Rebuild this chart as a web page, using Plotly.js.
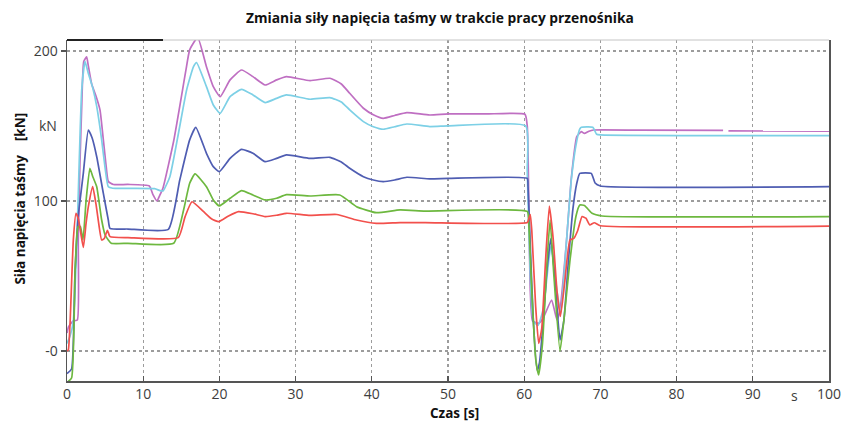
<!DOCTYPE html>
<html>
<head>
<meta charset="utf-8">
<script src="https://cdn.plot.ly/plotly-3.0.1.min.js"></script>
<style>html,body{margin:0;padding:0;background:#fff;}#chart{width:842px;height:426px;}</style>
</head>
<body>
<div id="chart"></div>
<script>
// ---- data (time in s, force in kN) ----
const chartTitle = "Zmiania siły napięcia taśmy w trakcie pracy przenośnika";
const xTitle = "Czas [s]";
const yTitle = "Siła napięcia taśmy\u00a0\u00a0\u00a0\u00a0[kN]";
const xTickVals = [0, 10, 20, 30, 40, 50, 60, 70, 80, 90, 100];
const xTickText = ["0", "10", "20", "30", "40", "50", "60", "70", "80", "90", "100"];
const yTickVals = [0, 100, 200];
const yTickText = ["-0", "100", "200"];
const xUnitLabel = "s";
const xUnitPos = 95.5;
const yUnitLabel = "kN";
const yUnitPos = 150;

const tMagenta = [0, 0.2, 0.8, 1.36, 1.48, 1.7, 1.93, 2.2, 2.58, 2.8, 3.24, 3.8, 4.33, 4.77, 5.1, 5.42, 6.1, 8, 10.8, 11.3, 11.8, 12.2, 12.6, 14, 15.6, 16.1, 17.15, 18.3, 19.2, 20.1, 21.4, 22.9, 24.4, 26, 27.5, 28.8, 31.9, 34.5, 36, 37.1, 38.9, 40.2, 41.5, 43, 44.6, 47.6, 50, 55, 60.1, 60.4, 60.6, 60.8, 61.1, 61.9, 62.5, 63.6, 64.3, 64.7, 65.5, 66.2, 66.9, 67.5, 67.9, 68.5, 69.1, 75, 86.1, 86.45, 86.8, 100];
const yMagenta = [12, 16, 20, 20.7, 74, 125, 163, 193, 196, 190, 178, 170, 160.7, 140.7, 125, 113, 111, 111, 110, 104, 100, 104, 108.7, 140, 187, 200.7, 209, 189.5, 176.2, 169.5, 180.7, 187.3, 182.9, 177.3, 180.7, 182.9, 180.2, 181.8, 178, 171.8, 161.8, 157.5, 155.1, 157, 158.9, 157.3, 158, 158, 157.8, 150, 100, 40, 20, 18.4, 22, 34, 20.7, 27.3, 70, 116, 142.9, 146.2, 145, 146.5, 147.3, 147.2, 147, null, 146.7, 146.5];

const tCyan = [0, 0.4, 0.83, 1.2, 1.48, 1.93, 2.36, 2.8, 3.4, 3.9, 4.55, 5.0, 5.42, 6, 8, 11.5, 12.2, 12.6, 13.5, 15.7, 16.6, 17.0, 18.3, 19.2, 20.1, 21.4, 22.9, 24.4, 26, 27.5, 28.8, 31.9, 34.5, 36, 37.1, 38.9, 40.2, 41.5, 43, 44.6, 47.6, 50, 60.2, 60.4, 60.8, 61.2, 61.8, 62.5, 63.5, 64.3, 64.8, 65.5, 66.2, 66.9, 67.3, 67.5, 69, 69.5, 70, 100];
const yCyan = [5, 10, 20, 60, 105, 174, 193, 185, 175, 163, 140.7, 122, 109.5, 108.5, 108.4, 108.2, 106.9, 106.7, 116.2, 174, 189.5, 192.2, 176.2, 164, 158.4, 169.5, 174.4, 170.7, 165.6, 168.4, 170.7, 167.8, 168.9, 166, 160.7, 152.9, 149.5, 147.8, 149.5, 151.3, 149.6, 150, 150, 120, 50, 20, 17, 28, 70, 40, 25, 70, 115, 140, 148, 149.1, 149.1, 144.5, 144, 143.5];

const tBlue = [0, 0.6, 1.05, 1.48, 2.14, 2.8, 3.3, 3.9, 4.77, 5.42, 5.64, 8, 13.3, 14.8, 16.1, 16.9, 18.3, 19.2, 20.0, 21.4, 22.9, 24.4, 26, 27.5, 28.8, 31.9, 34.5, 36, 37.1, 38.9, 40.2, 41.5, 43, 44.6, 47.6, 50, 60.4, 60.5, 60.8, 61.2, 61.7, 62.0, 62.5, 63.0, 63.5, 64.0, 64.7, 65.2, 65.8, 66.4, 66.9, 67.3, 68.8, 69.3, 70, 100];
const yBlue = [-15, -12, 52, 90, 118.4, 147.3, 142, 129.5, 105, 87.3, 81.8, 81.3, 81.1, 114, 140.7, 149.1, 131.8, 122.9, 119.6, 128.4, 134.4, 131.8, 126.2, 128.4, 130.7, 128.4, 129.1, 126, 121.8, 116.2, 114, 112.9, 114, 115.8, 114.7, 115, 115, 110, 70, 20, -13, -8, 20, 55, 75, 50, 7.3, 20, 60, 95, 111.8, 118.4, 118.4, 112, 110, 109.5];

const tGreen = [0, 0.6, 1.05, 1.3, 1.48, 1.75, 2.1, 2.5, 3.0, 3.4, 3.9, 4.55, 5.0, 5.42, 5.8, 8, 14, 15.3, 16.1, 16.8, 18.3, 19.2, 20.0, 21.4, 22.9, 24.4, 26, 27.5, 28.8, 31.9, 35.8, 38.0, 40.6, 43.7, 47, 60.4, 60.6, 61.0, 61.5, 61.9, 62.4, 63.0, 63.4, 63.9, 64.7, 65.3, 66.0, 66.8, 67.3, 67.9, 68.9, 70.2, 100];
const yGreen = [-21, -18, 52, 78, 83, 83, 74, 100, 121.8, 116, 109.5, 87.3, 77.3, 74, 71.8, 71.8, 71.8, 94, 111.8, 118, 109.5, 100.7, 96.7, 101.8, 106.9, 104, 100.7, 101.8, 104.2, 103.3, 104, 96.2, 92.2, 94, 93.3, 93, 85, 40, -5, -16, 5, 60, 87.3, 50, 0, 25, 60, 90, 97.3, 97, 91.8, 90, 89.6];

const tRed = [0, 0.17, 0.4, 0.83, 1.18, 1.5, 2.14, 2.5, 2.8, 3.37, 3.8, 4.1, 4.55, 4.9, 5.3, 5.64, 8, 14.6, 15.5, 16.4, 17.9, 19.0, 19.9, 21.2, 22.5, 24.4, 26, 27.5, 28.8, 31.9, 35.4, 38, 40.6, 43.7, 47, 60.4, 60.6, 60.8, 61.0, 61.5, 61.9, 62.3, 62.8, 63.3, 63.8, 64.3, 64.75, 65.3, 66.0, 66.5, 67.0, 67.6, 68.1, 68.6, 69.2, 70, 100];
const yRed = [0, 0.7, 18.4, 74, 91.8, 88, 69, 85, 96.2, 109.5, 98, 87.3, 74, 75, 80.5, 76.2, 75.6, 75.6, 89.6, 99.5, 93, 88, 86.2, 90, 92.9, 91.5, 89.6, 90.5, 91.8, 90.4, 91, 87.3, 85.1, 85.6, 85.6, 85.6, 88, 91, 80, 30, 5, 15, 60, 96.5, 75, 40, 23, 45, 74, 75, 80, 89.6, 88.5, 84, 85.5, 83.5, 83.3];

// ---- styles ----
const seriesDefs = [
  {name: "magenta", t: tMagenta, y: yMagenta, color: "#bf6fc2"},
  {name: "cyan", t: tCyan, y: yCyan, color: "#7dd0e6"},
  {name: "blue", t: tBlue, y: yBlue, color: "#4f5db2"},
  {name: "green", t: tGreen, y: yGreen, color: "#6db83f"},
  {name: "red", t: tRed, y: yRed, color: "#f2504c"}
];

const traces = seriesDefs.map(s => ({
  type: "scatter", mode: "lines", name: s.name,
  x: s.t, y: s.y, connectgaps: false,
  line: {color: s.color, width: 1.7, shape: "spline", smoothing: 0.45},
  hoverinfo: "skip"
}));

const tickFont = {family: "Open Sans, Noto Sans, sans-serif", size: 14, color: "#3d3d3d"};
const boldFont = {family: "Open Sans, Noto Sans, sans-serif", size: 13.5, color: "#111111", weight: 700};

const layout = {
  width: 842, height: 426,
  margin: {l: 67, r: 13, t: 40, b: 45},
  paper_bgcolor: "#ffffff", plot_bgcolor: "#ffffff",
  showlegend: false,
  title: {text: "<b>" + chartTitle + "</b>", x: 0.5225, xanchor: "center", y: 0.958, yanchor: "middle",
          font: {family: "Open Sans, Noto Sans, sans-serif", size: 13.8, color: "#111111"}},
  xaxis: {
    range: [0, 100], tickvals: xTickVals, ticktext: xTickText, tickfont: tickFont,
    showgrid: true, gridcolor: "#9c9c9c", griddash: "dot", gridwidth: 1.2,
    zeroline: false, showline: true, linecolor: "#555555", linewidth: 1.5, mirror: false,
    ticks: "inside", ticklen: 5, tickcolor: "#555555", tickwidth: 1.2
  },
  yaxis: {
    range: [-20, 207.3], tickvals: yTickVals, ticktext: yTickText, tickfont: tickFont,
    showgrid: true, gridcolor: "#9c9c9c", griddash: "dot", gridwidth: 1.2,
    zeroline: false, showline: true, linecolor: "#555555", linewidth: 1.5, mirror: true,
    ticks: "outside", ticklen: 5, tickcolor: "#555555", tickwidth: 1.2
  },
  shapes: [
    {type: "line", xref: "paper", yref: "paper", x0: 0, x1: 1, y0: 1, y1: 1, line: {color: "#c4c4c4", width: 1}},
    {type: "line", xref: "x", yref: "paper", x0: 0, x1: 12.6, y0: 1, y1: 1, line: {color: "#222222", width: 2}}
  ],
  annotations: [
    {text: "<b>" + xTitle + "</b>", xref: "paper", yref: "paper", x: 0.508, y: 0, yshift: -32, xanchor: "center", yanchor: "middle", showarrow: false, font: boldFont},
    {text: "<b>" + yTitle + "</b>", xref: "paper", yref: "paper", x: 0, xshift: -47, y: 0.535, textangle: -90, xanchor: "center", yanchor: "middle", showarrow: false, font: boldFont},
    {text: yUnitLabel, xref: "paper", yref: "y", x: 0, xshift: -8, y: yUnitPos, xanchor: "right", yanchor: "middle", showarrow: false, font: tickFont},
    {text: xUnitLabel, xref: "x", yref: "paper", x: xUnitPos, y: 0, yshift: -3, xanchor: "center", yanchor: "top", showarrow: false, font: tickFont}
  ]
};

Plotly.newPlot("chart", traces, layout, {displayModeBar: false, staticPlot: true});
</script>
</body>
</html>
